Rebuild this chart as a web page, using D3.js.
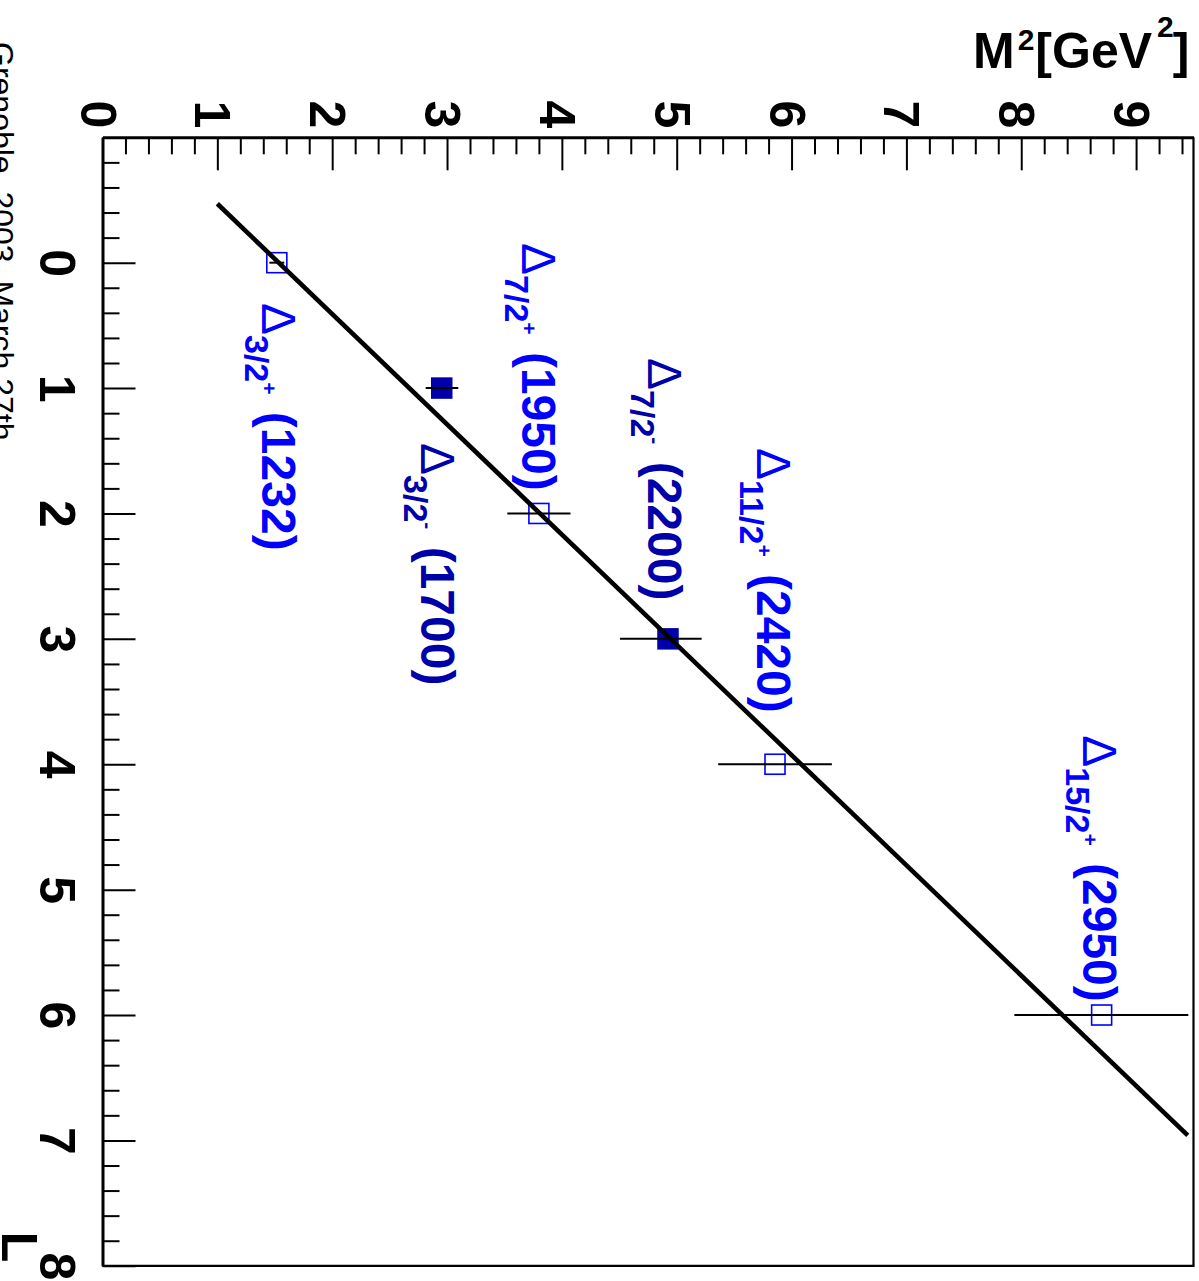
<!DOCTYPE html>
<html>
<head>
<meta charset="utf-8">
<script src="https://cdn.jsdelivr.net/npm/d3@7/dist/d3.min.js"></script>
<style>
  html, body { margin: 0; padding: 0; background: #fff; }
  svg { display: block; }
  text { font-family: "Liberation Sans", Arial, Helvetica, sans-serif; }
</style>
</head>
<body>
<svg id="chart" width="1199" height="1281"></svg>
<script>
// Delta resonances on the Regge trajectory: orbital excitation L vs M^2
const orbitalL      = [0, 1, 2, 3, 4, 6];
const massSquared   = [1.518, 2.954, 3.80, 4.924, 5.856, 8.70];
const errLow        = [0.065, 0.14, 0.275, 0.418, 0.495, 0.76];
const errHigh       = [0.065, 0.144, 0.275, 0.293, 0.495, 0.755];
const spinLabels    = ["3/2", "3/2", "7/2", "7/2", "11/2", "15/2"];
const parityLabels  = ["+", "-", "+", "-", "+", "+"];
const massLabels    = ["(1232)", "(1700)", "(1950)", "(2200)", "(2420)", "(2950)"];

// straight trajectory drawn across the frame
const trajectoryL  = [-0.47, 6.96];
const trajectoryM2 = [1.0, 9.45];

// axis ticks
const m2Ticks = [0, 1, 2, 3, 4, 5, 6, 7, 8, 9];
const lTicks  = [0, 1, 2, 3, 4, 5, 6, 7, 8];

// ---- layout ----
const frame = { left: 102.5, right: 1193.5, top: 137.3, bottom: 1265.8 };
// text anchors (L, M^2) for the resonance names
const labelAnchors = [
  [0.321, 1.389], [1.438, 2.774], [-0.157, 3.653],
  [0.760, 4.750], [1.478, 5.699], [3.768, 8.538]
];
const colPlus = "#0000ff", colMinus = "#0000aa";

const svg = d3.select("#chart");

const x = d3.scaleLinear().domain([0, 9.5]).range([frame.left, frame.right]);
const y = d3.scaleLinear().domain([-1, 8]).range([frame.top, frame.bottom]);

const minorStep = 0.2;
const minorVals = (lo, hi) => d3.range(Math.round(lo / minorStep), Math.round(hi / minorStep) + 1)
  .map(i => +(i * minorStep).toFixed(4))
  .filter(v => Math.abs(v - Math.round(v)) > 1e-6 && v >= lo && v <= hi);

// ---- top axis: M^2 ----
const topMinor = svg.append("g").attr("transform", `translate(0,${frame.top})`)
  .call(d3.axisTop(x).tickValues(minorVals(0, 9.5)).tickSizeInner(-17).tickSizeOuter(0).tickFormat(""));
topMinor.select(".domain").remove();

const topAxis = svg.append("g").attr("transform", `translate(0,${frame.top})`)
  .call(d3.axisTop(x).tickValues(m2Ticks).tickSizeInner(-33).tickSizeOuter(0).tickFormat(d3.format("d")));
topAxis.select(".domain").attr("stroke-width", 3);
topAxis.selectAll("text")
  .attr("x", 0).attr("y", 0).attr("dy", 22.5)
  .attr("transform", "translate(0,-9) rotate(90)")
  .attr("text-anchor", "end")
  .attr("font-size", 50).attr("font-weight", "bold").attr("fill", "#000");

// ---- left axis: L ----
const leftMinor = svg.append("g").attr("transform", `translate(${frame.left},0)`)
  .call(d3.axisLeft(y).tickValues(minorVals(-1, 8)).tickSizeInner(-17).tickSizeOuter(0).tickFormat(""));
leftMinor.select(".domain").remove();

const leftAxis = svg.append("g").attr("transform", `translate(${frame.left},0)`)
  .call(d3.axisLeft(y).tickValues(lTicks).tickSizeInner(-33).tickSizeOuter(0).tickFormat(d3.format("d")));
leftAxis.select(".domain").attr("stroke-width", 3);
leftAxis.selectAll("text")
  .attr("x", 0).attr("y", 0).attr("dy", 0)
  .attr("transform", "translate(-62.5,0) rotate(90)")
  .attr("text-anchor", "middle")
  .attr("font-size", 50).attr("font-weight", "bold").attr("fill", "#000");

svg.selectAll(".tick line").attr("stroke-width", 2);

// right and bottom frame edges
svg.append("path")
  .attr("d", `M${frame.right},${frame.top}V${frame.bottom}H${frame.left}`)
  .attr("fill", "none").attr("stroke", "#000").attr("stroke-width", 2.2);

// ---- axis titles ----
const m2Title = svg.append("text")
  .attr("x", 973).attr("y", 68)
  .attr("font-size", 50).attr("font-weight", "bold");
m2Title.append("tspan").text("M");
m2Title.append("tspan").attr("font-size", 30).attr("dx", 3).attr("dy", -18).text("2");
m2Title.append("tspan").attr("dx", 1).attr("dy", 18).text("[GeV");
m2Title.append("tspan").attr("font-size", 30).attr("dx", 5).attr("dy", -31).text("2");
m2Title.append("tspan").attr("dx", -1).attr("dy", 31).text("]");

svg.append("text")
  .attr("transform", `translate(2,${frame.bottom - 3.5}) rotate(90)`)
  .attr("text-anchor", "end")
  .attr("font-size", 50).attr("font-weight", "bold")
  .text("L");

svg.append("text")
  .attr("transform", "translate(-9,42) rotate(90)")
  .attr("font-size", 32)
  .text("Grenoble, 2003, March 27th");

// ---- data ----
const points = orbitalL.map((L, i) => ({
  L, m2: massSquared[i], lo: errLow[i], hi: errHigh[i],
  filled: parityLabels[i] === "-"
}));

const msize = 21.5;
svg.append("g").selectAll("rect").data(points).join("rect")
  .attr("x", d => x(d.m2) - msize / 2 + (d.filled ? 0 : 0.75))
  .attr("y", d => y(d.L) - msize / 2 + (d.filled ? 0 : 0.75))
  .attr("width", d => d.filled ? msize : msize - 1.5)
  .attr("height", d => d.filled ? msize : msize - 1.5)
  .attr("fill", d => d.filled ? colMinus : "none")
  .attr("stroke", d => d.filled ? "none" : colPlus)
  .attr("stroke-width", 1.6);

// trajectory line
svg.append("path")
  .datum(trajectoryL.map((L, i) => [L, trajectoryM2[i]]))
  .attr("d", d3.line().x(d => x(d[1])).y(d => y(d[0])))
  .attr("stroke", "#000").attr("stroke-width", 4.6).attr("fill", "none");

// horizontal error bars on M^2
svg.append("g").selectAll("line").data(points).join("line")
  .attr("x1", d => x(d.m2 - d.lo)).attr("x2", d => x(d.m2 + d.hi))
  .attr("y1", d => y(d.L)).attr("y2", d => y(d.L))
  .attr("stroke", "#000").attr("stroke-width", 2);

// resonance names
const labels = svg.append("g").selectAll("text").data(points).join("text")
  .attr("transform", (d, i) => `translate(${x(labelAnchors[i][1])},${y(labelAnchors[i][0])}) rotate(90)`)
  .attr("fill", d => d.filled ? colMinus : colPlus);
labels.append("tspan").attr("font-size", 48).text("Δ");
labels.append("tspan").attr("font-size", 34).attr("font-weight", "bold").attr("dy", 17)
  .text((d, i) => spinLabels[i]);
labels.append("tspan").attr("font-size", 21).attr("font-weight", "bold").attr("dy", -17)
  .text((d, i) => parityLabels[i]);
labels.append("tspan").attr("font-size", 48).attr("font-weight", "bold").attr("dx", 4)
  .text((d, i) => "\u00a0" + massLabels[i]);
</script>
</body>
</html>
